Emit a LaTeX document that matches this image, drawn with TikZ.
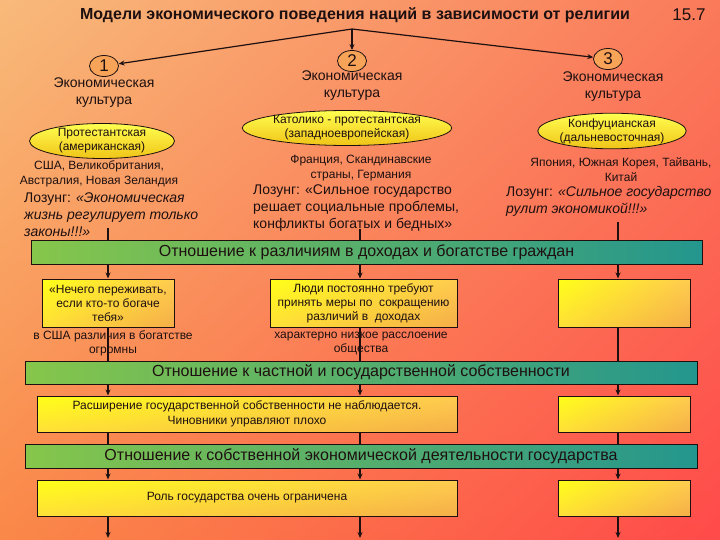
\documentclass[tikz,border=0pt]{standalone}
\usepackage{fontspec}
\setmainfont{Liberation Sans}
\usetikzlibrary{shapes.geometric,arrows.meta,shadings}
\definecolor{bgUL}{HTML}{F8BA7A}
\definecolor{bgUR}{HTML}{FA7A5A}
\definecolor{bgLL}{HTML}{FA8848}
\definecolor{bgLR}{HTML}{FF4A4A}
\definecolor{ylA}{HTML}{FFFF18}
\definecolor{ylB}{HTML}{FFCC50}
\definecolor{ylC}{HTML}{FFE038}
\definecolor{ylD}{HTML}{F5AE48}
\definecolor{grL}{HTML}{86C64A}
\definecolor{grR}{HTML}{24968E}
\definecolor{ink}{HTML}{1E1010}
\definecolor{circf}{HTML}{F8A458}
\definecolor{ellA}{HTML}{FFFF50}
\definecolor{ellB}{HTML}{F0C418}
\tikzset{
  conn/.style={draw=ink, line width=1.2pt},
  arr/.style={conn, -{Stealth[length=6pt,width=5pt]}},
  boxy/.style={draw=ink, line width=1pt, rectangle, inner sep=2pt, align=center,
    upper left=ylA, upper right=ylB, lower left=ylC, lower right=ylD,
    text=ink, font=\fontsize{12}{14}\selectfont},
  bandy/.style={draw=ink, line width=1pt, rectangle, inner sep=0pt,
    left color=grL, right color=grR, text=ink, font=\fontsize{16}{18}\selectfont},
  elly/.style={draw=ink, line width=0.8pt, ellipse, inner sep=0pt, align=center,
    top color=ellA, bottom color=ellB, text=ink, font=\fontsize{12}{14}\selectfont},
  circy/.style={draw=ink, line width=0.8pt, ellipse, inner sep=0pt,
    minimum width=29pt, minimum height=21pt, fill=circf, text=ink,
    font=\fontsize{17}{18}\selectfont},
  txt/.style={inner sep=0pt, align=center, text=ink},
  cult/.style={txt, font=\fontsize{14}{17}\selectfont},
  ctry/.style={txt, font=\fontsize{12}{15}\selectfont},
  loz/.style={txt, align=left, anchor=west, font=\fontsize{14}{17}\selectfont}
}
\begin{document}
\begin{tikzpicture}[x=1pt,y=-1pt]
\useasboundingbox (0,0) rectangle (720,540);
\shade[upper left=bgUL, upper right=bgUR, lower left=bgLL, lower right=bgLR] (0,0) rectangle (720,540);

\coordinate (colA) at (108,0);
\coordinate (colB) at (360,0);
\coordinate (colC) at (618,0);

\node[txt, font=\bfseries\fontsize{16}{18}\selectfont] (title) at (355,15) {Модели экономического поведения наций в зависимости от религии};
\node[txt, font=\fontsize{17}{19}\selectfont] (num) at (689,15) {15.7};

\coordinate (src) at (352,29);
\node[circy] (c1) at (104,66) {1};
\node[circy] (c2) at (352,61) {2};
\node[circy] (c3) at (608,59) {3};
\draw[arr] (src) -- (c1);
\draw[arr] (src) -- (c2);
\draw[arr] (src) -- (c3);

\node[cult] (e1) at (104,93) {Экономическая\\культура};
\node[cult] (e2) at (352,86) {Экономическая\\культура};
\node[cult] (e3) at (613,87) {Экономическая\\культура};

\node[elly, minimum width=145pt, minimum height=32pt] (r1) at (102,141) {Протестантская\\(американская)};
\node[elly, minimum width=167pt, minimum height=31pt] (r2) at (347,128) {Католико - протестантская\\(западноевропейская)};
\node[elly, minimum width=145pt, minimum height=32pt] (r3) at (612,131) {Конфуцианская\\(дальневосточная)};

\node[ctry] (k1) at (99,174) {США, Великобритания,\\Австралия, Новая Зеландия};
\node[ctry] (k2) at (361,168) {Франция, Скандинавские\\страны, Германия};
\node[ctry] (k3) at (621,170) {Япония, Южная Корея, Тайвань,\\Китай};

\node[loz] (l1) at (24,215) {Лозунг: \textit{«Экономическая}\\\textit{жизнь регулирует только}\\\textit{законы!!!»}};
\node[loz] (l2) at (253,208.5) {Лозунг: «Сильное государство\\решает социальные проблемы,\\конфликты богатых и бедных»};
\node[loz] (l3) at (506,201) {Лозунг: \textit{«Сильное государство}\\\textit{рулит экономикой!!!»}};

\coordinate (t1) at (108,228);
\coordinate (t2) at (360,229);
\coordinate (t3) at (618,222);

\node[bandy, minimum width=671pt, minimum height=24pt] (b1) at (366.5,252) {Отношение к различиям в доходах и богатстве граждан};

\draw[conn] (t1) -- (t1 |- b1.north);
\draw[conn] (t2) -- (t2 |- b1.north);
\draw[conn] (t3) -- (t3 |- b1.north);

\node[boxy, minimum width=132pt, minimum height=48pt] (x1) at (108,303) {«Нечего переживать,\\если кто-то богаче\\тебя»};
\node[boxy, minimum width=187pt, minimum height=48pt] (x2) at (363.5,303) {Люди постоянно требуют\\принять меры по\ \ сокращению\\различий в\ \ доходах};
\node[boxy, minimum width=132pt, minimum height=48pt] (x3) at (624,303) {};

\node[ctry, font=\fontsize{12}{14}\selectfont] (u1) at (113,343) {в США различия в богатстве\\огромны};
\node[ctry, font=\fontsize{12}{14}\selectfont] (u2) at (361,343) {характерно низкое расслоение\\общества};

\node[bandy, minimum width=672pt, minimum height=23pt] (b2) at (361,372.5) {Отношение к частной и государственной собственности};

\node[boxy, minimum width=420pt, minimum height=36pt, font=\fontsize{12}{15}\selectfont] (y1) at (247,414) {Расширение государственной собственности не наблюдается.\\Чиновники управляют плохо};
\node[boxy, minimum width=132pt, minimum height=36pt] (y3) at (624,414) {};

\node[bandy, minimum width=672pt, minimum height=24pt] (b3) at (361,456) {Отношение к собственной экономической деятельности государства};

\node[boxy, minimum width=420pt, minimum height=36pt, font=\fontsize{12}{14}\selectfont] (z1) at (247,498) {Роль государства очень ограничена};
\node[boxy, minimum width=132pt, minimum height=36pt] (z3) at (624,498) {};

\coordinate (bot) at (0,538);

% band1 -> row1
\draw[arr] (b1.south -| colA) -- (x1.north -| colA);
\draw[arr] (b1.south -| colB) -- (x2.north -| colB);
\draw[arr] (b1.south -| colC) -- (x3.north -| colC);
% row1 -> band2
\draw[conn] (x1.south -| colA) -- (b2.north -| colA);
\draw[conn] (x2.south -| colB) -- (b2.north -| colB);
\draw[conn] (x3.south -| colC) -- (b2.north -| colC);
% band2 -> row2
\draw[arr] (b2.south -| colA) -- (y1.north -| colA);
\draw[arr] (b2.south -| colB) -- (y1.north -| colB);
\draw[arr] (b2.south -| colC) -- (y3.north -| colC);
% row2 -> band3
\draw[conn] (y1.south -| colA) -- (b3.north -| colA);
\draw[conn] (y1.south -| colB) -- (b3.north -| colB);
\draw[conn] (y3.south -| colC) -- (b3.north -| colC);
% band3 -> row3
\draw[arr] (b3.south -| colA) -- (z1.north -| colA);
\draw[arr] (b3.south -| colB) -- (z1.north -| colB);
\draw[arr] (b3.south -| colC) -- (z3.north -| colC);
% row3 -> bottom
\draw[arr] (z1.south -| colA) -- (bot -| colA);
\draw[arr] (z1.south -| colB) -- (bot -| colB);
\draw[arr] (z3.south -| colC) -- (bot -| colC);
\end{tikzpicture}
\end{document}
